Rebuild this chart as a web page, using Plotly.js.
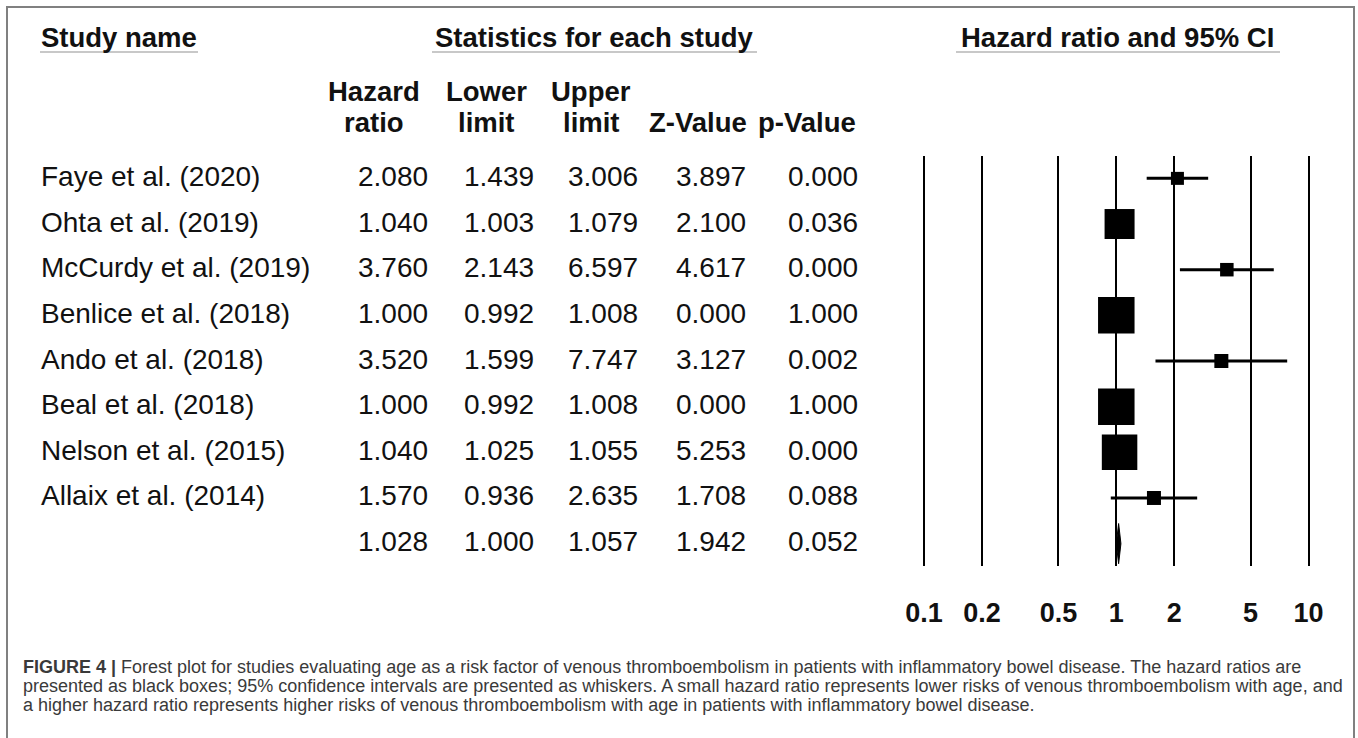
<!DOCTYPE html>
<html><head><meta charset="utf-8">
<script src="https://cdn.plot.ly/plotly-3.0.1.min.js"></script>
<style>html,body{margin:0;padding:0;background:#fff;overflow:hidden;} #chart{width:1358px;height:738px;}</style>
</head><body><div id="chart"></div>
<script>
// ---------------- data ----------------
const studies = ["Faye et al. (2020)", "Ohta et al. (2019)", "McCurdy et al. (2019)", "Benlice et al. (2018)",
                 "Ando et al. (2018)", "Beal et al. (2018)", "Nelson et al. (2015)", "Allaix et al. (2014)"];
const hazardRatio = [2.080, 1.040, 3.760, 1.000, 3.520, 1.000, 1.040, 1.570];
const lowerLimit  = [1.439, 1.003, 2.143, 0.992, 1.599, 0.992, 1.025, 0.936];
const upperLimit  = [3.006, 1.079, 6.597, 1.008, 7.747, 1.008, 1.055, 2.635];
const zValue      = [3.897, 2.100, 4.617, 0.000, 3.127, 0.000, 5.253, 1.708];
const pValue      = [0.000, 0.036, 0.000, 1.000, 0.002, 1.000, 0.000, 0.088];
// pooled (summary) row: HR, lower, upper, Z, p
const pooled      = [1.028, 1.000, 1.057, 1.942, 0.052];

const tickValues = [0.1, 0.2, 0.5, 1, 2, 5, 10];
const tickLabels = ["0.1", "0.2", "0.5", "1", "2", "5", "10"];

const groupHeaders = ["Study name", "Statistics for each study", "Hazard ratio and 95% CI"];
const colHeadTop    = ["Hazard", "Lower", "Upper", "", ""];
const colHeadBottom = ["ratio", "limit", "limit", "Z-Value", "p-Value"];

const captionBold = "FIGURE 4 |";
const captionLines = [
  " Forest plot for studies evaluating age as a risk factor of venous thromboembolism in patients with inflammatory bowel disease. The hazard ratios are",
  "presented as black boxes; 95% confidence intervals are presented as whiskers. A small hazard ratio represents lower risks of venous thromboembolism with age, and",
  "a higher hazard ratio represents higher risks of venous thromboembolism with age in patients with inflammatory bowel disease."
];

// ---------------- style / layout ----------------
const W = 1358, H = 738;
const px = v => v / W;            // x pixel -> paper
const py = v => 1 - v / H;        // y pixel -> paper
const FONT = "Liberation Sans, Arial, Helvetica, sans-serif";
const boxSizePx = [13, 30, 13.5, 36.5, 14, 36.5, 35.5, 14];
const colRightPx = [429, 535, 639, 747, 859];
const colCenterPx = [374, 486, 591, 698, 807];
const groupCenterPx = [null, 594, 1117];
const nameLeftPx = 40;
const rowTextShift = 2;
const bodySize = 28, headSize = 27.5;
const capSizes = [18.0, 18.0, 18.0];

const rows = studies.map((_, i) => i);
const pooledRow = studies.length;

// whiskers
const wx = [], wy = [];
rows.forEach(i => { wx.push(lowerLimit[i], upperLimit[i], null); wy.push(i, i, null); });

// diamond
const dh = 0.44;
const diaX = [pooled[1], pooled[0], pooled[2], pooled[0], pooled[1]];
const diaY = [pooledRow, pooledRow - dh, pooledRow, pooledRow + dh, pooledRow];

const traces = [
  {type: "scatter", mode: "lines", x: wx, y: wy, line: {color: "#000", width: 3},
   hoverinfo: "skip", showlegend: false, cliponaxis: false},
  {type: "scatter", mode: "markers", x: hazardRatio, y: rows,
   marker: {symbol: "square", size: boxSizePx, color: "#000", opacity: 1, line: {width: 0}},
   hoverinfo: "skip", showlegend: false, cliponaxis: false},
  {type: "scatter", mode: "lines", x: diaX, y: diaY, fill: "toself", fillcolor: "#000",
   line: {color: "#000", width: 1}, hoverinfo: "skip", showlegend: false, cliponaxis: false}
];

const ann = [];
const txt = (o) => ann.push(Object.assign({showarrow: false, borderpad: 0}, o));

// group headers
txt({text: "<b>" + groupHeaders[0] + "</b>", xref: "paper", yref: "paper", x: px(nameLeftPx), y: py(37),
     xanchor: "left", yanchor: "middle", font: {family: FONT, size: headSize, color: "#111"}});
for (let g = 1; g < 3; g++) {
  txt({text: "<b>" + groupHeaders[g] + "</b>", xref: "paper", yref: "paper", x: px(groupCenterPx[g]), y: py(37),
       xanchor: "center", yanchor: "middle", font: {family: FONT, size: headSize, color: "#111"}});
}
// column headers
colHeadTop.forEach((t, c) => {
  if (t) txt({text: "<b>" + t + "</b>", xref: "paper", yref: "paper", x: px(colCenterPx[c]), y: py(91),
              xanchor: "center", yanchor: "middle", font: {family: FONT, size: headSize, color: "#111"}});
  txt({text: "<b>" + colHeadBottom[c] + "</b>", xref: "paper", yref: "paper", x: px(colCenterPx[c]), y: py(123),
       xanchor: "center", yanchor: "middle", font: {family: FONT, size: headSize, color: "#111"}});
});

// study rows
const cols = [hazardRatio, lowerLimit, upperLimit, zValue, pValue];
rows.forEach(i => {
  txt({text: studies[i], xref: "paper", yref: "y", x: px(nameLeftPx), y: i, yshift: rowTextShift,
       xanchor: "left", yanchor: "middle", font: {family: FONT, size: bodySize, color: "#111"}});
  cols.forEach((arr, c) => {
    txt({text: arr[i].toFixed(3), xref: "paper", yref: "y", x: px(colRightPx[c]), y: i, yshift: rowTextShift,
         xanchor: "right", yanchor: "middle", font: {family: FONT, size: bodySize, color: "#111"}});
  });
});
pooled.forEach((v, c) => {
  txt({text: v.toFixed(3), xref: "paper", yref: "y", x: px(colRightPx[c]), y: pooledRow, yshift: rowTextShift,
       xanchor: "right", yanchor: "middle", font: {family: FONT, size: bodySize, color: "#111"}});
});

// caption
const capY = [667, 686, 705];
captionLines.forEach((line, k) => {
  txt({text: (k === 0 ? "<b>" + captionBold + "</b>" : "") + line, xref: "paper", yref: "paper",
       x: px(22), y: py(capY[k]), xanchor: "left", yanchor: "middle",
       font: {family: FONT, size: capSizes[k], color: "#3a3a3a"}});
});

const shapes = [
  // header underlines
  {type: "line", xref: "paper", yref: "paper", x0: px(40), x1: px(198), y0: py(52), y1: py(52), line: {color: "#c8c8c8", width: 2}},
  {type: "line", xref: "paper", yref: "paper", x0: px(432), x1: px(757), y0: py(52), y1: py(52), line: {color: "#c8c8c8", width: 2}},
  {type: "line", xref: "paper", yref: "paper", x0: px(956), x1: px(1280), y0: py(52), y1: py(52), line: {color: "#c8c8c8", width: 2}},
  // figure border
  {type: "path", xref: "paper", yref: "paper",
   path: `M ${px(7)} ${py(760)} L ${px(7)} ${py(7)} L ${px(1354)} ${py(7)} L ${px(1354)} ${py(760)}`,
   line: {color: "#808080", width: 2}}
];

const left = 1116.3, perDec = 192.2, pad = 1.05;
const layout = {
  width: W, height: H,
  margin: {l: 0, r: 0, t: 0, b: 0, pad: 0},
  paper_bgcolor: "#fff", plot_bgcolor: "rgba(0,0,0,0)",
  showlegend: false, hovermode: false,
  xaxis: {
    type: "log", range: [-pad, pad],
    domain: [px(left - pad * perDec), px(left + pad * perDec)],
    tickmode: "array", tickvals: tickValues, ticktext: tickLabels.map(t => "<b>" + t + "</b>"),
    showgrid: true, gridcolor: "#000", gridwidth: 2,
    showline: false, zeroline: false, ticks: "", ticklabelstandoff: 28,
    tickfont: {family: FONT, size: 27, color: "#111"}, fixedrange: true, automargin: false
  },
  yaxis: {
    range: [8.49, -0.49], domain: [py(566), py(156)],
    showgrid: false, zeroline: false, showline: false, showticklabels: false, ticks: "",
    fixedrange: true, automargin: false
  },
  annotations: ann,
  shapes: shapes
};

Plotly.newPlot("chart", traces, layout, {staticPlot: true, displayModeBar: false});
</script>
</body></html>
